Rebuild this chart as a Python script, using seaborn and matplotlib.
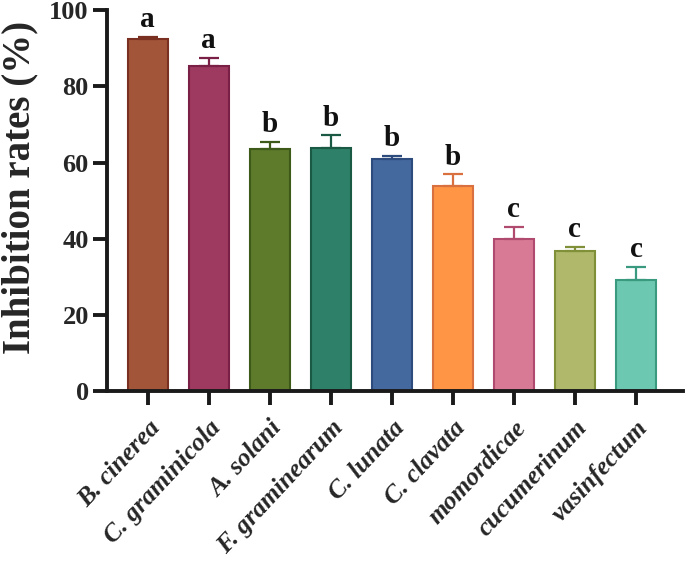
import matplotlib
matplotlib.use("Agg")
import matplotlib.pyplot as plt
import seaborn as sns
import pandas as pd

categories = ["B. cinerea", "C. graminicola", "A. solani", "F. graminearum",
              "C. lunata", "C. clavata", "momordicae", "cucumerinum", "vasinfectum"]
values = [92.3, 85.4, 63.6, 63.9, 60.8, 53.8, 39.8, 36.8, 29.3]
errors = [0.7, 2.1, 1.8, 3.2, 0.9, 3.1, 3.3, 1.0, 3.4]
letters = ["a", "a", "b", "b", "b", "b", "c", "c", "c"]
fill_colors = ["#A3553A", "#9E3A5F", "#5E7A2B", "#2E8068", "#44699F",
               "#FF9545", "#D87A96", "#AFB86B", "#6CC8B0"]
edge_colors = ["#7A3020", "#7A1F45", "#3D5A18", "#1A5A45", "#2D4C7D",
               "#D9703F", "#B04A6E", "#7F9038", "#3A9A80"]
yticks = [0, 20, 40, 60, 80, 100]

sns.set_theme(style="ticks")
plt.rcParams["font.family"] = ["Liberation Serif", "DejaVu Serif"]

df = pd.DataFrame({"cat": categories, "val": values})

fig = plt.figure(figsize=(6.85, 5.62), dpi=100)
ax = fig.add_axes([0.156, 0.304, 0.841, 0.678])

sns.barplot(data=df, x="cat", y="val", hue="cat", palette=fill_colors,
            saturation=1, legend=False, width=0.66, ax=ax, errorbar=None,
            linewidth=1.5)
for patch, ec in zip(ax.patches, edge_colors):
    patch.set_edgecolor(ec)
    patch.set_linewidth(1.5)

for i, (v, e, ec, lt) in enumerate(zip(values, errors, edge_colors, letters)):
    ax.errorbar(i, v, yerr=[[0], [e]], ecolor=ec, elinewidth=1.6,
                capsize=7, capthick=1.6, fmt="none", zorder=3)
    ax.text(i, v + e + 1.0, lt, ha="center", va="bottom", fontsize=21,
            fontweight="bold", color="#111111")

ax.set_ylim(0, 100)
ax.set_xlim(-0.67, len(categories) - 1 + 0.77)
ax.set_yticks(yticks)
ax.set_yticklabels([str(t) for t in yticks], fontsize=19, fontweight="bold")
ax.set_xticks(range(len(categories)))
ax.set_xticklabels(categories, rotation=47, ha="right", rotation_mode="anchor",
                   fontsize=18.5, fontweight="bold", fontstyle="italic")
ax.set_xlabel("")
ax.set_ylabel("Inhibition rates (%)", fontsize=28, fontweight="bold")
ax.yaxis.set_label_coords(-0.118, 0.535)

sns.despine(ax=ax)
for s in ["left", "bottom"]:
    ax.spines[s].set_linewidth(2.8)
    ax.spines[s].set_color("#1a1a1a")
ax.tick_params(axis="both", width=2.8, length=10, color="#1a1a1a")
ax.tick_params(axis="x", pad=8)
ax.tick_params(axis="y", pad=3)

fig.savefig("out.png", dpi=100)
